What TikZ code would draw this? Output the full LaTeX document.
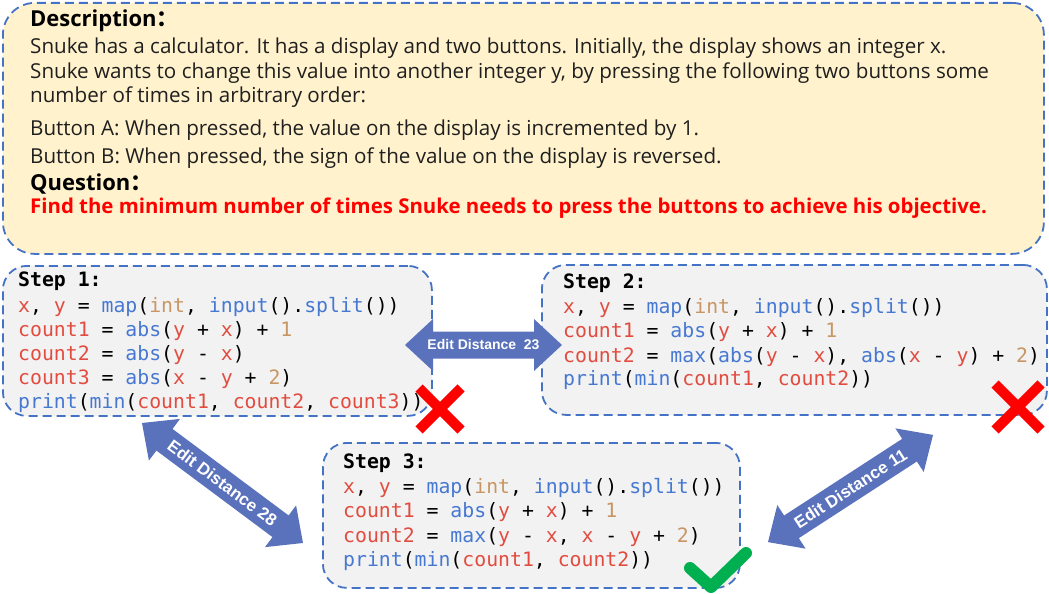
\documentclass[tikz,border=0pt]{standalone}
\usepackage{fontspec}
\setmainfont{Open Sans}
\setmonofont{DejaVu Sans Mono}
\newfontfamily\cjk{Noto Sans CJK SC}
\newfontfamily\arialfont{Liberation Sans}
\definecolor{bordblue}{RGB}{68,114,196}
\definecolor{descfill}{RGB}{255,242,204}
\definecolor{codefill}{RGB}{242,242,242}
\definecolor{codered}{RGB}{226,76,64}
\definecolor{codeblue}{RGB}{70,120,210}
\definecolor{codetan}{RGB}{200,150,100}
\definecolor{arrowblue}{RGB}{90,114,188}
\definecolor{markred}{RGB}{255,0,0}
\definecolor{markgreen}{RGB}{0,176,80}
\newcommand\cR[1]{\textcolor{codered}{#1}}
\newcommand\cB[1]{\textcolor{codeblue}{#1}}
\newcommand\cT[1]{\textcolor{codetan}{#1}}
% #1 center, #2 angle, #3 half length
\newcommand\darrow[3]{%
  \fill[arrowblue, shift={#1}, rotate=#2]
    (-#3,0) -- ({-#3+28},-26) -- ({-#3+28},-13.5) -- ({#3-28},-13.5) -- ({#3-28},-26)
    -- (#3,0) -- ({#3-28},26) -- ({#3-28},13.5) -- ({-#3+28},13.5) -- ({-#3+28},26) -- cycle;}
\begin{document}
\begin{tikzpicture}[x=1pt,y=-1pt,
  panel/.style={draw=bordblue, line width=1.8pt, dash pattern=on 9pt off 5pt, anchor=north west, inner sep=0pt},
  desc/.style={anchor=base west, inner sep=0pt, font=\fontsize{20.6}{24}\selectfont, text=black!88},
  head/.style={anchor=base west, inner sep=0pt, font=\fontsize{22}{26}\selectfont\bfseries, text=black},
  codeline/.style={anchor=base west, inner sep=0pt, font=\fontsize{19.8}{24}\selectfont\ttfamily, text=black},
  arrowlabel/.style={text=white, inner sep=0pt, font=\arialfont\bfseries\fontsize{14}{16}\selectfont},
  difflabel/.style={arrowlabel, font=\arialfont\bfseries\fontsize{17}{19}\selectfont},
  cross/.style={draw=markred, line width=10pt},
  tick/.style={draw=markgreen, line width=12pt, line cap=round, line join=round},
]
\useasboundingbox (0,0) rectangle (1049,594);

% boxes
\node[panel, fill=descfill, rounded corners=32pt, minimum width=1041pt, minimum height=251pt] (descbox) at (2,2) {};
\node[panel, fill=codefill, rounded corners=24pt, minimum width=429pt, minimum height=150pt] (s1) at (2,265) {};
\node[panel, fill=codefill, rounded corners=24pt, minimum width=505pt, minimum height=150pt] (s2) at (541,264) {};
\node[panel, fill=codefill, rounded corners=24pt, minimum width=417pt, minimum height=145pt] (s3) at (322,442) {};

% description text
\node[head] (dtitle) at (30,27) {Description{\cjk ：}};
\node[desc] (d1) at (30,53) {Snuke has a calculator. It has a display and two buttons. Initially, the display shows an integer x.};
\node[desc] (d2) at (30,78) {Snuke wants to change this value into another integer y, by pressing the following two buttons some};
\node[desc] (d3) at (30,102) {number of times in arbitrary order:};
\node[desc] (d4) at (30,135) {Button A: When pressed, the value on the display is incremented by 1.};
\node[desc] (d5) at (30,163) {Button B: When pressed, the sign of the value on the display is reversed.};
\node[head] (qtitle) at (30,190) {Question{\cjk ：}};
\node[head, font=\fontsize{20.4}{24}\selectfont\bfseries, text=markred] (q) at (30,213) {Find the minimum number of times Snuke needs to press the buttons to achieve his objective.};

% step 1
\node[codeline] (a0) at (18,286) {\textbf{Step 1:}};
\node[codeline] (a1) at (18,312) {\cR{x}, \cR{y} = \cB{map}(\cT{int}, \cB{input}().\cB{split}())};
\node[codeline] (a2) at (18,336) {\cR{count1} = \cB{abs}(\cR{y} + \cR{x}) + \cT{1}};
\node[codeline] (a3) at (18,360) {\cR{count2} = \cB{abs}(\cR{y} - \cR{x})};
\node[codeline] (a4) at (18,384) {\cR{count3} = \cB{abs}(\cR{x} - \cR{y} + \cT{2})};
\node[codeline] (a5) at (18,408) {\cB{print}(\cB{min}(\cR{count1}, \cR{count2}, \cR{count3}))};

% step 2
\node[codeline] (b0) at (563,288) {\textbf{Step 2:}};
\node[codeline] (b1) at (563,313) {\cR{x}, \cR{y} = \cB{map}(\cT{int}, \cB{input}().\cB{split}())};
\node[codeline] (b2) at (563,337) {\cR{count1} = \cB{abs}(\cR{y} + \cR{x}) + \cT{1}};
\node[codeline] (b3) at (563,362) {\cR{count2} = \cB{max}(\cB{abs}(\cR{y} - \cR{x}), \cB{abs}(\cR{x} - \cR{y}) + \cT{2})};
\node[codeline] (b4) at (563,385) {\cB{print}(\cB{min}(\cR{count1}, \cR{count2}))};

% step 3
\node[codeline] (c0) at (343,468) {\textbf{Step 3:}};
\node[codeline] (c1) at (343,493) {\cR{x}, \cR{y} = \cB{map}(\cT{int}, \cB{input}().\cB{split}())};
\node[codeline] (c2) at (343,517) {\cR{count1} = \cB{abs}(\cR{y} + \cR{x}) + \cT{1}};
\node[codeline] (c3) at (343,542) {\cR{count2} = \cB{max}(\cR{y} - \cR{x}, \cR{x} - \cR{y} + \cT{2})};
\node[codeline] (c4) at (343,566) {\cB{print}(\cB{min}(\cR{count1}, \cR{count2}))};

% edit distance arrows
\darrow{(483.5,345)}{0}{78.5}
\node[arrowlabel] (e23) at (483.5,345) {Edit Distance\ \ 23};
\darrow{(222.5,483)}{-36.7}{100.4}
\node[difflabel, rotate=-36.7] (e28) at (222.5,483) {Edit Distance 28};
\darrow{(850.5,488.5)}{33}{98.4}
\node[difflabel, rotate=33] (e11) at (850.5,488.5) {Edit Distance 11};

% marks
\draw[cross] (419,388) -- (461,430) (419,430) -- (461,388);
\draw[cross] (995,384) -- (1041,430) (995,430) -- (1041,384);
\draw[tick] (690,568) -- (711,587) -- (746,553);
\end{tikzpicture}
\end{document}
